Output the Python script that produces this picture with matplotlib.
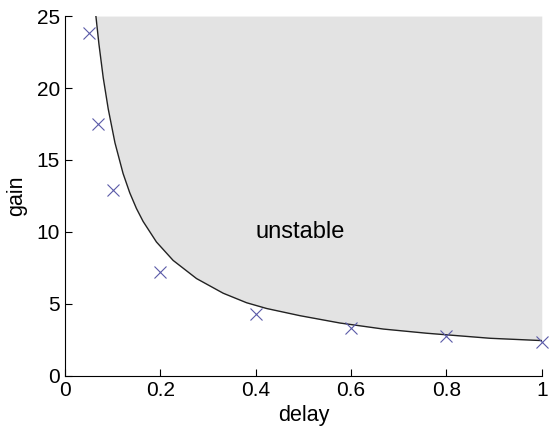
import matplotlib
matplotlib.use("Agg")
import matplotlib.pyplot as plt

# boundary curve
curve_delay = [0.065, 0.0713, 0.0804, 0.0909, 0.105, 0.122, 0.136, 0.150, 0.164,
               0.192, 0.227, 0.276, 0.332, 0.381, 0.423, 0.493, 0.577, 0.668,
               0.759, 0.892, 1.0]
curve_gain = [25.0, 23.07, 20.71, 18.54, 16.19, 14.06, 12.72, 11.63, 10.73,
              9.30, 8.02, 6.76, 5.74, 5.08, 4.68, 4.18, 3.67, 3.25,
              2.96, 2.61, 2.45]

# measured points
pt_delay = [0.05, 0.07, 0.1, 0.2, 0.4, 0.6, 0.8, 1.0]
pt_gain = [23.8, 17.5, 12.9, 7.2, 4.28, 3.29, 2.75, 2.32]

xticks = [0, 0.2, 0.4, 0.6, 0.8, 1]
xticklabels = ["0", "0.2", "0.4", "0.6", "0.8", "1"]
yticks = [0, 5, 10, 15, 20, 25]

plt.rcParams['font.family'] = ['Liberation Sans', 'DejaVu Sans']

fig = plt.figure(figsize=(5.5, 4.34), dpi=100)
ax = fig.add_axes([0.118, 0.134, 0.867, 0.829])

ax.fill_between(curve_delay, curve_gain, 25, color='#e3e3e3', linewidth=0)
ax.plot(curve_delay, curve_gain, color='#222222', linewidth=1.0)
ax.plot(pt_delay, pt_gain, linestyle='none', marker='x', markersize=9,
        markeredgewidth=0.8, color='#5a5aa8', clip_on=False)

ax.text(0.493, 10, "unstable", ha='center', va='center', fontsize=17)

ax.set_xlim(0, 1)
ax.set_ylim(0, 25)
ax.set_xticks(xticks)
ax.set_xticklabels(xticklabels)
ax.set_yticks(yticks)
ax.tick_params(direction='in', labelsize=15, length=5, width=0.8)
ax.spines['top'].set_visible(False)
ax.spines['right'].set_visible(False)
ax.set_xlabel("delay", fontsize=15.5, labelpad=4)
ax.set_ylabel("gain", fontsize=15.5, labelpad=7)

fig.savefig("out.png", dpi=100)
